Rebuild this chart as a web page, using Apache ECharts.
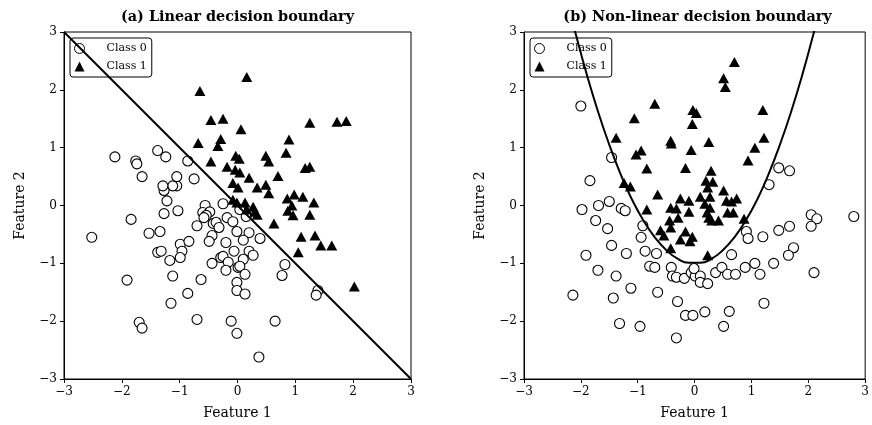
<!DOCTYPE html>
<html>
<head>
<meta charset="utf-8">
<script src="https://cdn.jsdelivr.net/npm/echarts@6/dist/echarts.min.js"></script>
<style>
html,body{margin:0;padding:0;background:#fff;}
#chart{width:872px;height:425px;}
</style>
</head>
<body>
<div id="chart"></div>
<script>
// ---- Data ----
const panelTitles = ['(a) Linear decision boundary', '(b) Non-linear decision boundary'];
const classNames = ['Class 0', 'Class 1'];
const tickValues = [-3, -2, -1, 0, 1, 2, 3];
const xAxisName = 'Feature 1';
const yAxisName = 'Feature 2';

// Panel (a): linear
const linearClass0 = [
  [-2.52,-0.55],[-2.12,0.84],[-1.76,0.77],[-1.74,0.72],[-1.65,0.50],[-1.84,-0.24],[-1.91,-1.29],
  [-1.70,-2.02],[-1.65,-2.12],[-1.53,-0.48],[-1.34,-0.45],[-1.38,0.95],[-1.24,0.84],[-1.22,0.08],
  [-1.27,-0.14],[-1.38,-0.81],[-1.32,-0.79],[-1.17,-0.95],[-1.15,-1.69],[-1.12,-1.22],[-1.05,0.34],
  [-1.12,0.34],[-1.27,0.26],[-1.29,0.34],[-1.05,0.50],[-1.03,-0.09],[-0.99,-0.67],[-0.96,-0.79],
  [-0.99,-0.90],[-0.86,0.77],[-0.84,-0.62],[-0.75,0.46],[-0.86,-1.52],[-0.70,-0.35],[-0.70,-1.97],
  [-0.63,-1.28],[-0.56,0.00],[-0.60,-0.12],[-0.48,-0.11],[-0.54,-0.17],[-0.58,-0.21],[-0.42,-0.31],
  [-0.37,-0.29],[-0.32,-0.38],[-0.44,-0.52],[-0.49,-0.62],[-0.44,-1.00],[-0.29,-0.90],[-0.25,-0.88],
  [-0.16,-0.98],[-0.20,-1.12],[-0.20,-0.64],[-0.25,0.03],[-0.18,-0.21],[-0.08,-0.28],[-0.01,-0.45],
  [-0.06,-0.79],[0.01,-1.07],[-0.11,-2.00],[-0.01,-2.21],[-0.01,-1.33],[-0.01,-1.47],[0.04,-0.07],
  [0.15,-0.19],[0.20,-0.47],[0.10,-0.60],[0.39,-0.57],[0.20,-0.79],[0.27,-0.86],[0.10,-0.93],
  [0.04,-1.05],[0.13,-1.19],[0.13,-1.53],[0.82,-1.02],[0.77,-1.21],[1.39,-1.47],[1.36,-1.55],
  [0.65,-2.00],[0.37,-2.62]
];
const linearClass1 = [
  [-0.65,1.98],[0.16,2.22],[-0.46,1.48],[-0.25,1.50],[0.06,1.32],[-0.68,1.08],[-0.29,1.15],
  [-0.34,1.03],[-0.46,0.76],[-0.18,0.67],[-0.03,0.86],[0.03,0.81],[-0.04,0.62],[0.04,0.57],
  [0.20,0.48],[-0.08,0.39],[0.01,0.31],[0.34,0.31],[-0.08,0.10],[-0.01,0.05],[0.13,0.05],
  [0.27,-0.02],[0.16,-0.07],[0.30,-0.11],[0.34,-0.16],[0.49,0.86],[0.54,0.76],[0.89,1.14],
  [0.84,0.91],[0.70,0.51],[0.49,0.36],[0.54,0.21],[0.86,0.12],[0.98,0.19],[1.13,0.15],
  [1.32,0.05],[0.94,0.00],[0.87,-0.09],[0.96,-0.17],[1.25,-0.16],[0.63,-0.31],[1.10,-0.54],
  [1.34,-0.52],[1.44,-0.69],[1.63,-0.69],[1.05,-0.81],[2.02,-1.40],[1.17,0.65],[1.25,0.67],
  [1.25,1.43],[1.72,1.45],[1.88,1.46]
];
const linearBoundary = [[-3, 3], [3, -3]];

// Panel (b): non-linear
const nonlinearClass0 = [
  [-2.00,1.72],[-1.46,0.83],[-1.84,0.43],[-1.69,0.00],[-1.50,0.07],[-1.98,-0.07],[-1.29,-0.05],
  [-1.22,-0.09],[-1.74,-0.26],[-1.53,-0.40],[-0.91,-0.35],[-0.94,-0.55],[-1.46,-0.69],[-1.91,-0.86],
  [-1.20,-0.83],[-0.87,-0.79],[-0.67,-0.83],[-0.79,-1.05],[-0.70,-1.07],[-0.41,-1.07],[-0.39,-1.22],
  [-0.32,-1.24],[-0.18,-1.26],[-0.06,-1.16],[0.01,-1.22],[-1.70,-1.12],[-1.38,-1.22],[-1.12,-1.43],
  [-0.65,-1.50],[-2.14,-1.55],[-1.43,-1.60],[-0.30,-1.66],[-0.16,-1.90],[-0.03,-1.90],[-1.32,-2.04],
  [-0.96,-2.09],[-0.32,-2.29],[-0.01,-1.09],[0.10,-1.22],[0.10,-1.33],[0.23,-1.35],[0.37,-1.16],
  [0.48,-1.07],[0.58,-1.19],[0.72,-1.19],[0.65,-0.85],[0.91,-0.45],[0.94,-0.57],[0.89,-1.07],
  [1.06,-1.00],[1.15,-1.19],[1.20,-0.54],[1.39,-1.00],[1.48,-0.43],[1.67,-0.36],[1.74,-0.73],
  [1.65,-0.86],[2.05,-0.16],[2.15,-0.23],[2.05,-0.36],[2.10,-1.16],[2.80,-0.19],[1.22,-1.69],
  [0.18,-1.84],[0.61,-1.83],[0.51,-2.09],[1.48,0.65],[1.67,0.60],[1.31,0.36]
];
const nonlinearClass1 = [
  [-0.70,1.76],[-1.06,1.51],[-0.03,1.65],[0.03,1.60],[-0.04,1.41],[-1.38,1.17],[-0.42,1.12],
  [-0.41,1.07],[-0.94,0.95],[-1.03,0.88],[-0.06,0.96],[-0.84,0.64],[-0.16,0.65],[-1.24,0.39],
  [-1.13,0.33],[-0.65,0.19],[-0.25,0.12],[-0.10,0.08],[0.70,2.48],[0.51,2.20],[0.54,2.05],
  [1.20,1.65],[0.25,1.10],[1.22,1.17],[1.06,1.00],[0.94,0.78],[0.29,0.60],[0.20,0.43],
  [0.32,0.41],[0.23,0.31],[0.51,0.26],[0.10,0.15],[0.27,0.15],[0.74,0.12],[0.56,0.08],
  [0.65,0.07],[-0.84,-0.07],[-0.42,-0.04],[-0.32,-0.05],[-0.10,-0.11],[-0.29,-0.21],[-0.44,-0.26],
  [-0.42,-0.38],[-0.60,-0.43],[-0.54,-0.52],[-0.16,-0.45],[-0.25,-0.59],[-0.08,-0.62],[-0.42,-0.74],
  [0.18,0.03],[0.27,-0.04],[0.22,-0.12],[0.58,-0.12],[0.68,-0.12],[0.25,-0.21],[0.30,-0.26],
  [0.42,-0.26],[0.87,-0.23],[-0.04,-0.54],[0.23,-0.86]
];
const nonlinearBoundary = [
  [-2.14,3.15],[-2.1,3.0],[-1.9,2.28],[-1.7,1.63],[-1.5,1.05],[-1.3,0.54],[-1.1,0.10],
  [-0.9,-0.26],[-0.7,-0.55],[-0.5,-0.77],[-0.3,-0.92],[-0.1,-0.99],[0.1,-0.99],[0.3,-0.92],
  [0.5,-0.77],[0.7,-0.55],[0.9,-0.26],[1.1,0.10],[1.3,0.54],[1.5,1.05],[1.7,1.63],
  [1.9,2.28],[2.1,3.0],[2.14,3.15]
];

// ---- Layout / style ----
const FONT = 'DejaVu Serif';
const grids = [
  {left: 64, top: 32, width: 347, height: 348},
  {left: 524, top: 32, width: 347, height: 348}
];
const fmt = v => String(v).replace('-', '\u2212');

function xAxisFor(i) {
  return {
    gridIndex: i, type: 'value', min: -3, max: 3, interval: 1,
    name: xAxisName, nameLocation: 'middle', nameGap: 27,
    nameTextStyle: {fontFamily: FONT, fontSize: 14, color: '#000'},
    axisLine: {show: true, onZero: false, lineStyle: {color: '#000', width: 1}},
    axisTick: {show: true, inside: false, length: 4, lineStyle: {color: '#000', width: 1}},
    axisLabel: {show: true, color: '#000', fontFamily: FONT, fontSize: 12, margin: 7, formatter: fmt,
      showMinLabel: true, showMaxLabel: true},
    splitLine: {show: false}
  };
}
function yAxisFor(i) {
  return {
    gridIndex: i, type: 'value', min: -3, max: 3, interval: 1,
    name: yAxisName, nameLocation: 'middle', nameGap: 37, nameRotate: 90,
    nameTextStyle: {fontFamily: FONT, fontSize: 14, color: '#000'},
    axisLine: {show: true, onZero: false, lineStyle: {color: '#000', width: 1}},
    axisTick: {show: true, inside: false, length: 4, lineStyle: {color: '#000', width: 1}},
    axisLabel: {show: true, color: '#000', fontFamily: FONT, fontSize: 12, margin: 7, formatter: fmt,
      showMinLabel: true, showMaxLabel: true},
    splitLine: {show: false}
  };
}
function legendFor(i) {
  return {
    data: classNames, orient: 'vertical',
    left: grids[i].left + 6, top: 38,
    padding: [5, 5, 5, 4], itemGap: 7, itemWidth: 10, itemHeight: 10,
    borderColor: '#000', borderWidth: 1, borderRadius: 3, backgroundColor: '#fff',
    selectedMode: false,
    itemStyle: {borderWidth: 1},
    textStyle: {fontFamily: FONT, fontSize: 11, color: '#000', padding: [0, 0, 0, 17]}
  };
}
function class0Series(i, data) {
  return {
    name: classNames[0], type: 'scatter', xAxisIndex: i, yAxisIndex: i, data: data,
    symbol: 'circle', symbolSize: 10,
    itemStyle: {color: '#fff', borderColor: '#000', borderWidth: 1.1, opacity: 1},
    emphasis: {disabled: true}, z: 2
  };
}
function class1Series(i, data) {
  return {
    name: classNames[1], type: 'scatter', xAxisIndex: i, yAxisIndex: i, data: data,
    symbol: 'triangle', symbolSize: [11, 10],
    itemStyle: {color: '#000', opacity: 1},
    emphasis: {disabled: true}, z: 3
  };
}
function boundarySeries(i, data, smooth) {
  return {
    type: 'line', xAxisIndex: i, yAxisIndex: i, data: data, smooth: smooth,
    showSymbol: false, symbol: 'none', clip: true,
    lineStyle: {color: '#000', width: 2},
    emphasis: {disabled: true}, z: 4
  };
}

const chart = echarts.init(document.getElementById('chart'), null, {renderer: 'canvas'});
chart.setOption({
  animation: false,
  backgroundColor: '#fff',
  title: [
    {text: panelTitles[0], left: grids[0].left + grids[0].width / 2, textAlign: 'center', top: 10, padding: 0,
      textStyle: {fontFamily: FONT, fontSize: 14.4, fontWeight: 'bold', color: '#000'}},
    {text: panelTitles[1], left: grids[1].left + grids[1].width / 2, textAlign: 'center', top: 10, padding: 0,
      textStyle: {fontFamily: FONT, fontSize: 14.4, fontWeight: 'bold', color: '#000'}}
  ],
  grid: grids.map(g => Object.assign({show: true, borderColor: '#000', borderWidth: 1, backgroundColor: 'transparent', containLabel: false}, g)),
  xAxis: [xAxisFor(0), xAxisFor(1)],
  yAxis: [yAxisFor(0), yAxisFor(1)],
  legend: [legendFor(0), legendFor(1)],
  series: [
    class0Series(0, linearClass0),
    class1Series(0, linearClass1),
    boundarySeries(0, linearBoundary, false),
    class0Series(1, nonlinearClass0),
    class1Series(1, nonlinearClass1),
    boundarySeries(1, nonlinearBoundary, true)
  ]
});
</script>
</body>
</html>
